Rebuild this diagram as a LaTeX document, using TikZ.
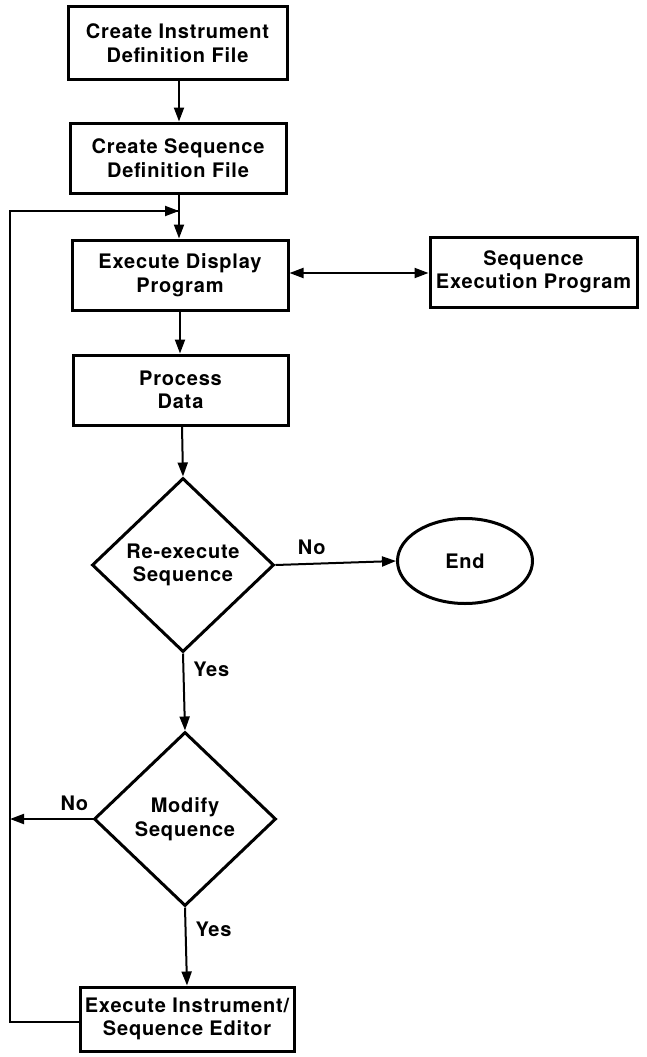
\documentclass[tikz,border=0pt]{standalone}
\usepackage{fontspec}
\setmainfont{TeX Gyre Heros}[LetterSpace=4]
\usetikzlibrary{shapes.geometric,arrows.meta}
\begin{document}
\begin{tikzpicture}[x=1pt,y=-1pt,
  font=\fontsize{20}{23.5}\selectfont\bfseries,
  box/.style={draw,line width=3pt,align=center,inner sep=0pt},
  dia/.style={draw,diamond,line width=3pt,align=center,inner sep=0pt,minimum width=182pt,minimum height=174pt},
  term/.style={draw,ellipse,line width=3pt,inner sep=0pt,minimum width=135pt,minimum height=85pt},
  conn/.style={line width=2pt,-{Triangle[length=14pt,width=10pt]}},
  lbl/.style={inner sep=0pt}]
\useasboundingbox (0,0) rectangle (647,1057);
\node[box,minimum width=219pt,minimum height=72pt] (a) at (177.5,43) {Create Instrument\\Definition File};
\node[box,minimum width=216pt,minimum height=70pt] (b) at (178,158) {Create Sequence\\Definition File};
\node[box,minimum width=216pt,minimum height=70pt] (c) at (180,275) {Execute Display\\Program};
\node[box,minimum width=207pt,minimum height=70pt] (s) at (533.5,272) {Sequence\\Execution Program};
\node[box,minimum width=215pt,minimum height=70pt] (p) at (180.5,390) {Process\\Data};
\node[dia] (r) at (183,565) {Re-execute\\Sequence};
\node[term] (e) at (465,561) {End};
\node[dia] (m) at (185,819) {Modify\\Sequence};
\node[box,minimum width=214pt,minimum height=64pt] (x) at (187,1019) {Execute Instrument/\\Sequence Editor};
\coordinate (lt) at (10,211);
\coordinate (lb) at (10,1022);
\coordinate (lj) at (179,211);
\coordinate (ln) at (10,819);
\draw[conn] (a.south -| 179,0) -- (b.north -| 179,0);
\draw[conn] (b.south -| 179,0) -- (c.north -| 179,0);
\draw[line width=2pt,{Triangle[length=14pt,width=10pt]}-{Triangle[length=14pt,width=10pt]}] (c.east |- 0,273) -- (s.west |- 0,273);
\draw[conn] (c.south -| 180,0) -- (p.north -| 180,0);
\draw[conn] (p.south -| 182,0) -- (r.north);
\draw[conn] (r.east) -- node[lbl,pos=0.3,above=8pt] {No} (e.west);
\draw[conn] (r.south) -- node[lbl,pos=0.2,right=9pt] {Yes} (m.north);
\draw[conn] (m.west) -- node[lbl,pos=0.22,above=7pt] {No} (ln);
\draw[conn] (m.south) -- node[lbl,pos=0.28,right=9pt] {Yes} (x.north);
\draw[line width=2pt] (x.west |- lb) -- (lb) -- (lt) -- (lj);
\draw[conn] (lt) -- (lj);
\end{tikzpicture}
\end{document}
